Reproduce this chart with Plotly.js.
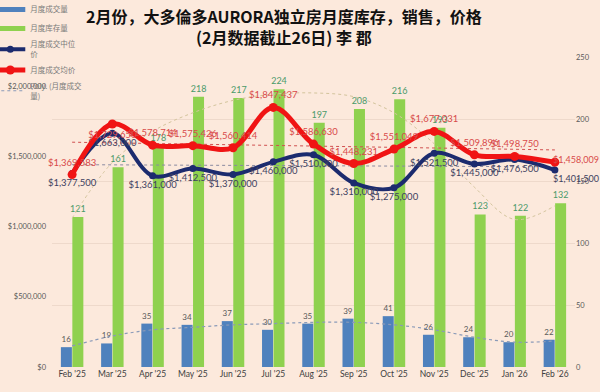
<!DOCTYPE html>
<html>
<head>
<meta charset="utf-8">
<script src="https://cdn.plot.ly/plotly-3.0.1.min.js"></script>
<style>html,body{margin:0;padding:0;background:#fce9dc;}#chart{width:600px;height:392px;}</style>
</head>
<body>
<div id="chart"></div>
<script>
const months = ["Feb '25","Mar '25","Apr '25","May '25","Jun '25","Jul '25","Aug '25","Sep '25","Oct '25","Nov '25","Dec '25","Jan '26","Feb '26"];
const salesVolume = [16,19,35,34,37,30,35,39,41,26,24,20,22];
const inventory = [121,161,178,218,217,224,197,208,216,193,123,122,132];
const medianPrice = [1377500,1663000,1361000,1412500,1370000,1460000,1510000,1310000,1275000,1521500,1445000,1476500,1401500];
const avgPrice = [1369583,1729650,1578714,1575426,1560414,1847437,1586630,1448231,1551049,1677031,1509896,1498750,1458009];
// trendlines
const salesTrend = [17,25,30,32,34,35,36,36,34,30,24,20,21];
const inventoryTrend = [120,165,190,205,215,220,221,218,205,180,145,119,130];
const trendEnds = [months[0], months[months.length-1]];
const avgTrendEnds = [1600000,1545000];
const medianTrendEnds = [1440000,1425000];
const priceTicks = [0,500000,1000000,1500000,2000000];
const priceTickText = ["$0","$500,000","$1,000,000","$1,500,000","$2,000,000"];

const numFont = "Lato, 'Noto Sans CJK SC', sans-serif";
const cjk = "'Noto Sans CJK SC', Lato, sans-serif";
const last = months.length - 1;
const fmt = v => '$' + v.toLocaleString('en-US');

const avgPos = months.map((m,i) => i === 1 ? 'bottom center' : 'top center');
const tmpl = months.map((m,i) => i === last ? '' : '$%{y:,.0f}');

const traces = [
  {x:[null], y:[null], type:'scatter', mode:'lines', name:'月度成交量', line:{color:'#4f81bd', width:5}, legendrank:1},
  {x:[null], y:[null], type:'scatter', mode:'lines', name:'月度库存量', line:{color:'#8fd14f', width:5}, legendrank:2},
  {x:months, y:salesVolume, type:'bar', name:'月度成交量', showlegend:false, marker:{color:'#4f81bd'},
   text:salesVolume.map(String), textposition:'outside', constraintext:'none', cliponaxis:false, textfont:{family:numFont, size:8, color:'#595959'}},
  {x:months, y:inventory, type:'bar', name:'月度库存量', showlegend:false, marker:{color:'#8fd14f'},
   text:inventory.map(String), textposition:'outside', constraintext:'none', cliponaxis:false, textfont:{family:numFont, size:9, color:'#4a9a6a'}},
  {x:months, y:inventoryTrend, type:'scatter', mode:'lines', showlegend:false, line:{color:'#d3c49c', width:1, dash:'dot', shape:'spline'}},
  {x:months, y:salesTrend, type:'scatter', mode:'lines', name:'Poly. (月度成交<br>量)', legendrank:5, line:{color:'#8a9ab8', width:1.2, dash:'dot', shape:'spline'}},
  {x:trendEnds, y:medianTrendEnds, yaxis:'y2', type:'scatter', mode:'lines', showlegend:false, line:{color:'#8a8aa0', width:1, dash:'dot'}},
  {x:trendEnds, y:avgTrendEnds, yaxis:'y2', type:'scatter', mode:'lines', showlegend:false, line:{color:'#d05050', width:1, dash:'dot'}},
  {x:months, y:medianPrice, yaxis:'y2', type:'scatter', mode:'lines+markers+text', name:'月度成交中位<br>价', legendrank:3,
   line:{color:'#1c2b6e', width:4, shape:'spline', smoothing:1}, marker:{color:'#1c2b6e', size:7},
   texttemplate:tmpl, textposition:'bottom center', cliponaxis:false, textfont:{family:numFont, size:9.5, color:'#3e4160'}},
  {x:months, y:avgPrice, yaxis:'y2', type:'scatter', mode:'lines+markers+text', name:'月度成交均价', legendrank:4,
   line:{color:'#f01414', width:5, shape:'spline', smoothing:1}, marker:{color:'#f01414', size:9},
   texttemplate:tmpl, textposition:avgPos, cliponaxis:false, textfont:{family:numFont, size:9.5, color:'#d84a4a'}}
];

const annotations = [
  {x:months[last], y:medianPrice[last], xref:'x', yref:'y2', text:fmt(medianPrice[last]), showarrow:false, borderpad:0,
   xanchor:'left', yanchor:'top', xshift:-3, yshift:-2, font:{family:numFont, size:9, color:'#3e4160'}},
  {x:months[last], y:avgPrice[last], xref:'x', yref:'y2', text:fmt(avgPrice[last]), showarrow:false, borderpad:0,
   xanchor:'left', yanchor:'middle', xshift:-3, yshift:3, font:{family:numFont, size:9, color:'#d84a4a'}}
];

const layout = {
  width:600, height:392,
  paper_bgcolor:'#fce9dc', plot_bgcolor:'#fce9dc',
  margin:{l:52, r:25, t:57, b:25, autoexpand:false},
  title:{text:'<b>2月份，大多倫多AURORA独立房月度库存，销售，价格<br>(2月数据截止26日) 李 郡</b>', font:{family:cjk, size:16, color:'#111'},
         x:0.473, xref:'container', xanchor:'center', y:0.942, yref:'container', yanchor:'top'},
  barmode:'group', bargap:0.43, bargroupgap:0.04,
  showlegend:true,
  legend:{x:-0.118, xref:'paper', y:1.2, yref:'paper', xanchor:'left', yanchor:'top', bgcolor:'rgba(0,0,0,0)',
          font:{family:cjk, size:7.5, color:'#7a7a7a'}, itemwidth:30, tracegroupgap:0},
  annotations:annotations,
  xaxis:{type:'category', range:[-0.5,12.5], autorange:false, showgrid:false, zeroline:false, showline:false, ticks:'',
         tickfont:{family:numFont, size:8.5, color:'#404040'}},
  yaxis:{side:'right', range:[0,250], dtick:50, showgrid:true, gridcolor:'#eed9cb', gridwidth:1, zeroline:false, showline:false, ticks:'',
         tickfont:{family:numFont, size:7.5, color:'#595959'}},
  yaxis2:{overlaying:'y', side:'left', range:[0,2206400], tickvals:priceTicks, ticktext:priceTickText, ticklabelstandoff:5,
          showgrid:false, zeroline:false, showline:false, ticks:'', tickfont:{family:numFont, size:7.5, color:'#595959'}},
  hovermode:false
};

Plotly.newPlot('chart', traces, layout, {displayModeBar:false, staticPlot:true});
</script>
</body>
</html>
